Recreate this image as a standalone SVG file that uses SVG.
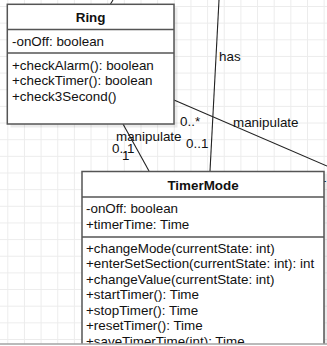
<svg xmlns="http://www.w3.org/2000/svg" width="327" height="346" viewBox="0 0 327 346">
<defs>
<pattern id="grid" x="7.3" y="6" width="16.65" height="16.65" patternUnits="userSpaceOnUse">
<path d="M0 0.5H16.65M0.5 0V16.65" stroke="#ececec" stroke-width="1" fill="none"/>
</pattern>
</defs>
<style>
text{font-family:"Liberation Sans",Arial,Helvetica,sans-serif;font-size:13.4px;fill:#111}
.t{font-weight:bold;text-anchor:middle}
.box{fill:#fff;stroke:#555;stroke-width:1.5}
.sh{fill:#000;opacity:0.08}
.div{stroke:#555;stroke-width:1.5}
.edge{stroke:#222;stroke-width:1.1;fill:none}
</style>
<rect width="327" height="346" fill="#fff"/>
<rect width="327" height="344" fill="url(#grid)"/>
<g id="connectors">
<line class="edge" x1="113" y1="0" x2="110.5" y2="4"/>
<line class="edge" x1="219" y1="0" x2="210" y2="171"/>
<line class="edge" x1="174" y1="100" x2="327" y2="166"/>
<line class="edge" x1="123" y1="124" x2="149" y2="171"/>
<text x="219" y="61">has</text>
<text x="233" y="127">manipulate</text>
<text x="180" y="126">0..*</text>
<text x="319" y="182">1</text>
<text x="116" y="141">manipulate</text>
<text x="112" y="153">0..1</text>
<text x="122" y="160">1</text>
<text x="186" y="148">0..1</text>
</g>
<g id="Ring">
<rect class="sh" x="10.5" y="7.5" width="167" height="120"/>
<rect class="box" x="7.3" y="4.3" width="166.7" height="119.7"/>
<line class="div" x1="7.3" y1="29.5" x2="174" y2="29.5"/>
<line class="div" x1="7.3" y1="53" x2="174" y2="53"/>
<text class="t" x="90.6" y="22">Ring</text>
<text x="12" y="46">-onOff: boolean</text>
<text x="12" y="69.5">+checkAlarm(): boolean</text>
<text x="12" y="85">+checkTimer(): boolean</text>
<text x="12" y="100.5">+check3Second()</text>
</g>
<g id="TimerMode">
<rect class="sh" x="85" y="174" width="242" height="175"/>
<rect class="box" x="82" y="171.5" width="242" height="180"/>
<line class="div" x1="82" y1="197" x2="324" y2="197"/>
<line class="div" x1="82" y1="237" x2="324" y2="237"/>
<text class="t" x="203" y="189.5">TimerMode</text>
<text x="86" y="213">-onOff: boolean</text>
<text x="86" y="228.5">+timerTime: Time</text>
<text x="86" y="252.5">+changeMode(currentState: int)</text>
<text x="86" y="268">+enterSetSection(currentState: int): int</text>
<text x="86" y="283.5">+changeValue(currentState: int)</text>
<text x="86" y="299">+startTimer(): Time</text>
<text x="86" y="314.5">+stopTimer(): Time</text>
<text x="86" y="330">+resetTimer(): Time</text>
<text x="86" y="345.5">+saveTimerTime(int): Time</text>
</g>
<rect x="0" y="343.5" width="327" height="3" fill="#fff"/>
<line x1="0" y1="344" x2="327" y2="344" stroke="#777" stroke-width="1.2"/>
</svg>
